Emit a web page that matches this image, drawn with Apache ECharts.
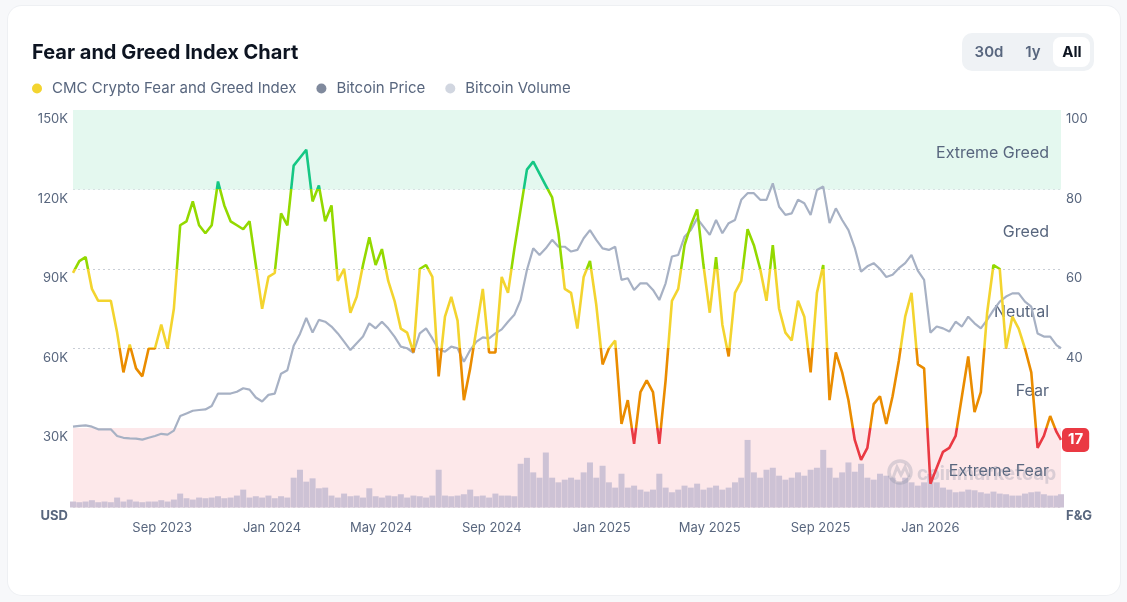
<!DOCTYPE html>
<html>
<head>
<meta charset="utf-8">
<title>Fear and Greed Index Chart</title>
<script src="https://cdn.jsdelivr.net/npm/echarts@6/dist/echarts.min.js"></script>
<style>
html, body { margin: 0; padding: 0; background: #f7f8fa; }
.card {
    position: absolute; left: 8px; top: 6px; width: 1112px; height: 589px;
    background: #fff; border-radius: 14px; box-shadow: 0 0 0 1px #eef0f3;
}
#chart { position: absolute; left: 0; top: 0; width: 1127px; height: 602px; }
</style>
</head>
<body>
<div class="card"></div>
<div id="chart"></div>
<script>
// weekly samples, first one on startDate, last one on endDate
const startDate = Date.UTC(2023, 4, 25)
const endDate = Date.UTC(2026, 4, 26)
const DAY = 86400000
const stepDays = 7

// CMC Crypto Fear and Greed Index (0-100)
const fgValues = [
    59, 62, 63, 55, 52, 52, 52, 44, 34, 41, 35, 33, 40, 40, 46, 40, 50, 71, 72, 77,
    71, 69, 71, 82, 76, 72, 71, 70, 72, 61, 50, 58, 59, 74, 71, 86, 88, 90, 77, 81,
    72, 76, 57, 60, 49, 53, 61, 68, 61, 65, 57, 52, 45, 44, 39, 60, 61, 58, 33, 48,
    53, 47, 27, 35, 45, 55, 39, 39, 58, 54, 65, 75, 85, 87, 84, 81, 78, 69, 55, 54,
    45, 58, 62, 51, 36, 40, 42, 21, 27, 16, 29, 32, 29, 16, 32, 52, 55, 66, 71, 75,
    61, 49, 63, 46, 38, 54, 57, 70, 66, 60, 52, 66, 50, 44, 42, 52, 48, 34, 54, 61,
    27, 39, 34, 27, 17, 12, 15, 26, 28, 21, 28, 37, 48, 54, 36, 35, 6, 10, 14, 15,
    18, 28, 38, 24, 29, 49, 61, 60, 40, 48, 45, 40, 34, 15, 18, 23, 19, 17
]

// Bitcoin price, thousand USD
const priceValues = [
    30.5, 30.8, 31.0, 30.5, 29.5, 29.5, 29.5, 27.0, 26.3, 26.1, 26.0, 25.6, 26.3, 27.0, 27.8, 27.5, 29.0, 34.5, 35.5, 36.5,
    36.8, 37.0, 38.3, 43.0, 43.0, 43.0, 43.7, 45.0, 44.5, 41.5, 40.0, 42.5, 43.0, 50.5, 51.8, 61.0, 65.5, 71.5, 66.0, 70.8,
    70.1, 68.3, 65.7, 62.6, 59.4, 62.0, 64.5, 69.5, 67.6, 70.1, 67.6, 64.5, 60.7, 60.1, 58.4, 65.7, 67.6, 63.8, 59.7, 58.8,
    60.7, 60.1, 55.0, 59.4, 62.6, 64.2, 63.8, 65.7, 67.2, 70.1, 72.7, 78.3, 89.6, 97.8, 95.3, 97.8, 101.0, 98.4, 98.4, 96.6,
    97.2, 101.6, 104.7, 101.0, 97.8, 97.2, 98.4, 85.9, 86.5, 82.1, 84.6, 84.6, 82.1, 78.3, 84.6, 94.7, 95.3, 102.2, 104.7, 109.1,
    106.0, 102.9, 108.5, 103.5, 107.3, 108.5, 116.1, 118.6, 118.6, 116.1, 116.1, 122.3, 113.5, 110.4, 111.0, 116.1, 114.8, 110.4, 119.8, 121.1,
    107.3, 112.9, 108.5, 104.7, 98.0, 89.0, 91.0, 92.2, 90.0, 87.0, 87.8, 90.3, 92.2, 95.3, 89.4, 85.9, 66.0, 68.3, 67.6, 66.4,
    70.1, 68.3, 72.0, 69.5, 67.6, 70.8, 74.5, 77.7, 79.6, 80.8, 80.8, 77.7, 75.8, 65.7, 64.5, 64.5, 61.3, 60.1
]

// Bitcoin volume, billion USD
const volumeValues = [
    9, 8, 9, 11, 8, 9, 8, 15, 9, 12, 9, 8, 9, 9, 11, 9, 12, 21, 14, 12,
    15, 14, 15, 17, 14, 15, 18, 27, 15, 17, 15, 18, 14, 17, 15, 45, 57, 39, 44, 29,
    30, 18, 15, 21, 17, 18, 15, 29, 17, 15, 18, 17, 20, 15, 18, 17, 15, 18, 57, 18,
    17, 18, 20, 27, 17, 18, 15, 21, 18, 18, 17, 66, 75, 53, 45, 83, 45, 38, 42, 45,
    42, 53, 68, 45, 63, 38, 30, 51, 30, 33, 27, 24, 27, 51, 30, 23, 27, 33, 30, 36,
    27, 30, 33, 27, 30, 38, 45, 102, 53, 45, 57, 60, 48, 42, 45, 53, 48, 57, 60, 87,
    60, 45, 53, 68, 54, 66, 45, 42, 51, 48, 45, 38, 45, 38, 33, 38, 51, 38, 30, 27,
    23, 24, 27, 26, 23, 21, 24, 21, 20, 18, 18, 21, 23, 24, 20, 18, 18, 20
]

const tickDates = ['2023-09-01', '2024-01-01', '2024-05-01', '2024-09-01', '2025-01-01', '2025-05-01', '2025-09-01', '2026-01-01']
const monthNames = ['Jan', 'Feb', 'Mar', 'Apr', 'May', 'Jun', 'Jul', 'Aug', 'Sep', 'Oct', 'Nov', 'Dec']

const bands = [
    { name: 'Extreme Greed', from: 80, to: 100, color: '#e4f8ef' },
    { name: 'Greed', from: 60, to: 80, color: 'rgba(0,0,0,0)' },
    { name: 'Neutral', from: 40, to: 60, color: 'rgba(0,0,0,0)' },
    { name: 'Fear', from: 20, to: 40, color: 'rgba(0,0,0,0)' },
    { name: 'Extreme Fear', from: 0, to: 20, color: '#fde8ea' }
]

const FONT = 'Inter, "Noto Sans", sans-serif'
const TXT = '#58667e'
const MARK = 'rgba(128,138,157,0.28)'

const dateAt = (i, n) => (i === n - 1 ? endDate : startDate + i * stepDays * DAY)
const fgData = fgValues.map((v, i) => [dateAt(i, fgValues.length), v])
const priceData = priceValues.map((v, i) => [dateAt(i, priceValues.length), v * 1000])
const volumeData = volumeValues.map((v, i) => [dateAt(i, volumeValues.length), v])
const tickValues = tickDates.map(s => Date.parse(s + 'T00:00:00Z'))

const chart = echarts.init(document.getElementById('chart'))
chart.setOption({
    animation: false,
    textStyle: { fontFamily: FONT },
    title: {
        text: 'Fear and Greed Index Chart',
        left: 27,
        top: 38,
        textStyle: { fontSize: 20, fontWeight: 'bold', color: '#0d1421', fontFamily: FONT }
    },
    legend: {
        left: 27,
        top: 76,
        icon: 'circle',
        itemWidth: 20,
        itemHeight: 10,
        itemGap: 20,
        textStyle: { fontSize: 15, color: TXT, fontFamily: FONT },
        data: [
            { name: 'CMC Crypto Fear and Greed Index', itemStyle: { color: '#f3d42f' } },
            { name: 'Bitcoin Price', itemStyle: { color: '#808a9d' } },
            { name: 'Bitcoin Volume', itemStyle: { color: '#d1d6e0' } }
        ]
    },
    grid: { left: 73, right: 66, top: 110, bottom: 94.5 },
    // timestamps on a value axis, labels only on the chosen month starts
    xAxis: {
        type: 'value',
        min: startDate,
        max: endDate,
        axisLine: { show: false },
        axisTick: { show: false },
        splitLine: { show: false },
        axisLabel: {
            customValues: tickValues,
            color: TXT,
            fontSize: 13,
            margin: 14,
            formatter: (v) => {
                const d = new Date(v)
                return monthNames[d.getUTCMonth()] + ' ' + d.getUTCFullYear()
            }
        }
    },
    yAxis: [
        {
            type: 'value',
            position: 'left',
            min: 0,
            max: 150000,
            interval: 30000,
            name: 'USD',
            nameLocation: 'start',
            nameGap: 2,
            nameTextStyle: { color: TXT, fontSize: 13, fontWeight: 'bold', align: 'right', verticalAlign: 'top', padding: [0, 5, 0, 0] },
            axisLine: { show: false },
            axisTick: { show: false },
            axisLabel: {
                color: TXT,
                fontSize: 13,
                margin: 5,
                verticalAlign: 'top',
                padding: [3, 0, 0, 0],
                formatter: (v) => (v === 0 ? '' : v / 1000 + 'K')
            },
            splitLine: { lineStyle: { color: '#c9ced6', type: [2, 3], width: 1 } }
        },
        {
            type: 'value',
            position: 'right',
            min: 0,
            max: 100,
            interval: 20,
            name: 'F&G',
            nameLocation: 'start',
            nameGap: 2,
            nameTextStyle: { color: TXT, fontSize: 13, fontWeight: 'bold', align: 'left', verticalAlign: 'top', padding: [0, 0, 0, 5] },
            axisLine: { show: false },
            axisTick: { show: false },
            axisLabel: {
                color: TXT,
                fontSize: 13,
                margin: 5,
                verticalAlign: 'top',
                padding: [3, 0, 0, 0],
                formatter: (v) => (v === 0 ? '' : String(v))
            },
            splitLine: { show: false }
        },
        { type: 'value', min: 0, max: 600, show: false }
    ],
    visualMap: {
        type: 'piecewise',
        show: false,
        seriesIndex: 3,
        dimension: 1,
        pieces: [
            { lt: 20, color: '#ea3943' },
            { gte: 20, lt: 40, color: '#ea8c00' },
            { gte: 40, lt: 60, color: '#f3d42f' },
            { gte: 60, lt: 80, color: '#93d900' },
            { gte: 80, color: '#16c784' }
        ]
    },
    graphic: [
        // range switch
        { type: 'rect', left: 962, top: 33, shape: { width: 132, height: 38, r: 10 }, style: { fill: '#eff2f5' } },
        { type: 'rect', left: 1053, top: 37, shape: { width: 37, height: 30, r: 8 }, style: { fill: '#ffffff' } },
        { type: 'text', x: 989, y: 52, style: { text: '30d', fill: TXT, font: '600 15px ' + FONT, align: 'center', verticalAlign: 'middle' } },
        { type: 'text', x: 1033, y: 52, style: { text: '1y', fill: TXT, font: '600 15px ' + FONT, align: 'center', verticalAlign: 'middle' } },
        { type: 'text', x: 1072, y: 52, style: { text: 'All', fill: '#0d1421', font: 'bold 15px ' + FONT, align: 'center', verticalAlign: 'middle' } },
        // watermark
        { type: 'circle', z: 3, shape: { cx: 900, cy: 472, r: 11 }, style: { fill: 'none', stroke: MARK, lineWidth: 3.5 } },
        { type: 'polyline', z: 3, shape: { points: [[893, 478], [897, 467], [901, 475], [905, 467], [909, 477]] }, style: { fill: 'none', stroke: MARK, lineWidth: 3 } },
        { type: 'text', z: 3, x: 917, y: 474, style: { text: 'coinmarketcap', fill: MARK, font: 'bold 19px ' + FONT, verticalAlign: 'middle' } }
    ],
    series: [
        {
            type: 'line',
            yAxisIndex: 1,
            data: [],
            silent: true,
            z: 0,
            markArea: {
                silent: true,
                label: { show: true, position: 'insideRight', distance: 12, offset: [0, 3], color: TXT, fontSize: 16, fontFamily: FONT },
                data: bands.map(b => [{ yAxis: b.from, name: b.name, itemStyle: { color: b.color } }, { yAxis: b.to }])
            }
        },
        {
            name: 'Bitcoin Volume',
            type: 'bar',
            yAxisIndex: 2,
            data: volumeData,
            barWidth: 6,
            silent: true,
            z: 2,
            itemStyle: { color: '#cdc2d5' }
        },
        {
            name: 'Bitcoin Price',
            type: 'line',
            yAxisIndex: 0,
            data: priceData,
            showSymbol: false,
            z: 4,
            itemStyle: { color: '#a7b1c4' },
            lineStyle: { color: '#a7b1c4', width: 2.2 }
        },
        {
            name: 'CMC Crypto Fear and Greed Index',
            type: 'line',
            yAxisIndex: 1,
            data: fgData,
            showSymbol: false,
            z: 5,
            itemStyle: { color: '#f3d42f' },
            lineStyle: { width: 2.6 },
            endLabel: {
                show: true,
                distance: 1,
                formatter: (p) => String(p.value[1]),
                color: '#fff',
                backgroundColor: '#ea3943',
                borderRadius: 5,
                padding: [5, 6, 4, 6],
                fontSize: 15,
                fontWeight: 'bold',
                fontFamily: FONT
            }
        }
    ]
})
</script>
</body>
</html>
